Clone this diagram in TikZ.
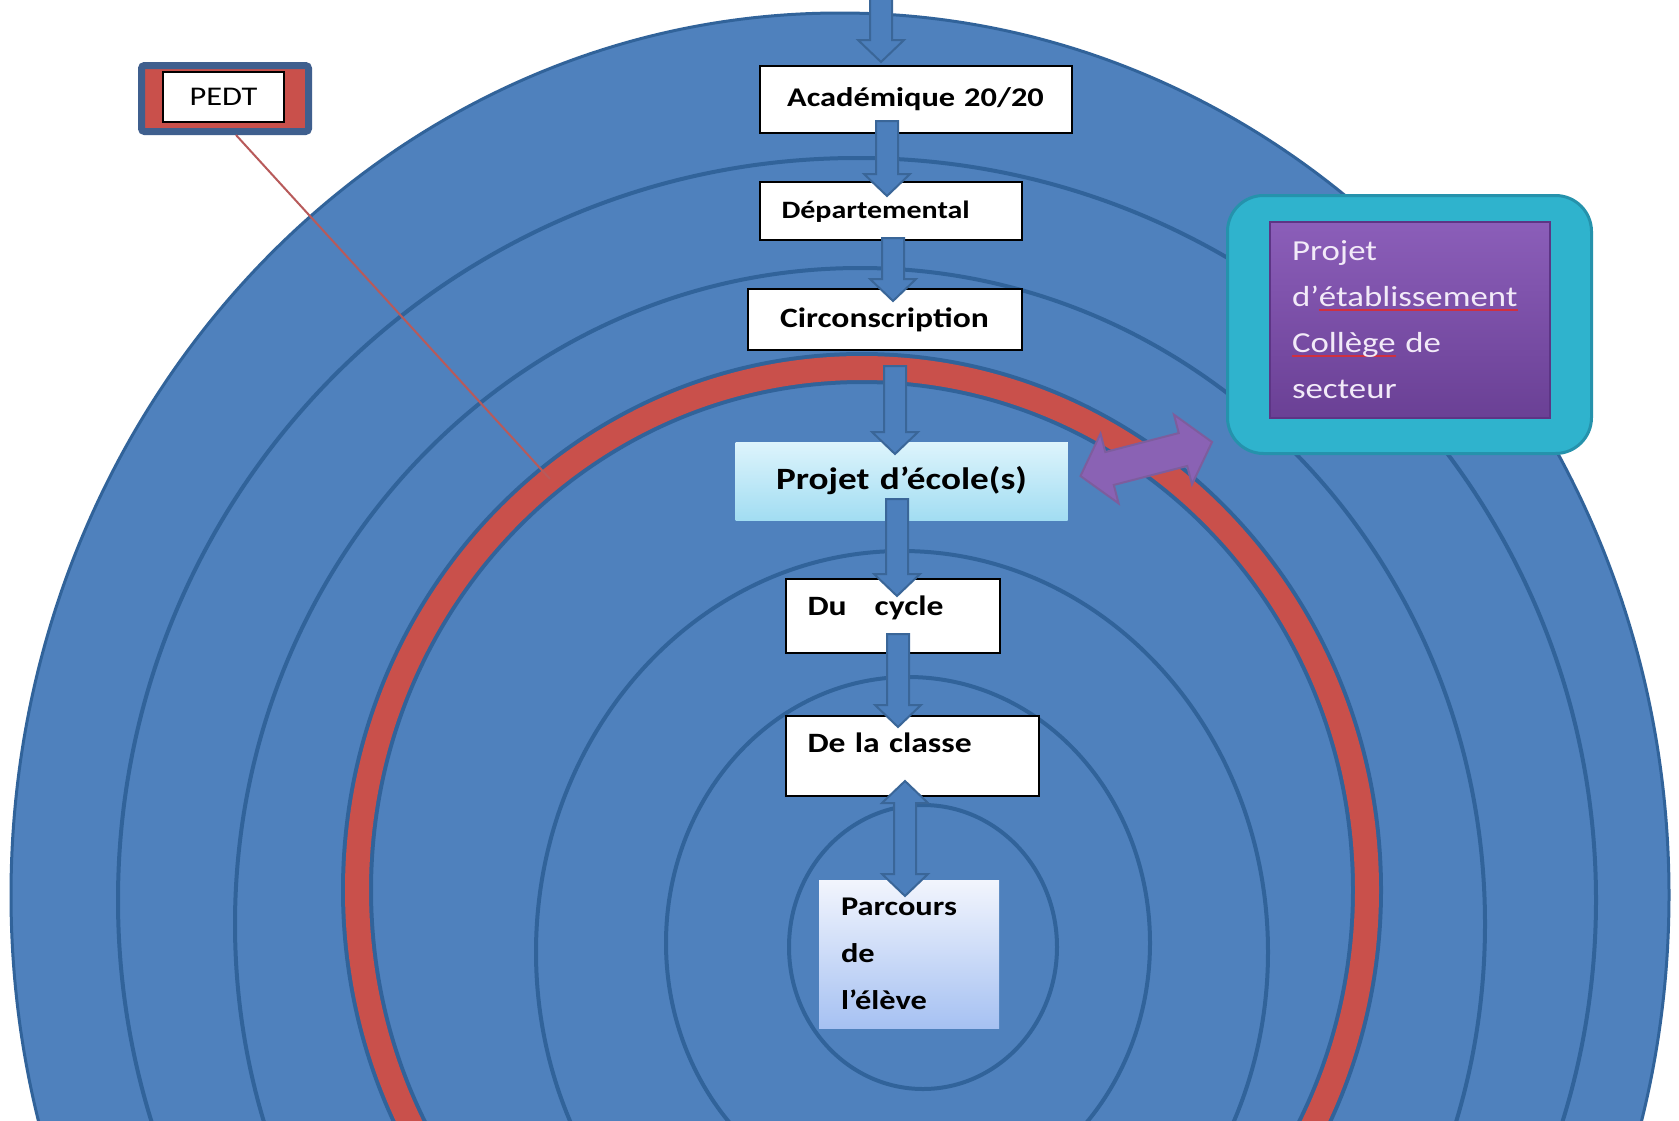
\documentclass[tikz,border=0pt]{standalone}
\usepackage{fontspec}
\setmainfont{Carlito}[FakeStretch=1.2]
\usetikzlibrary{calc,positioning}

\definecolor{ringblue}{HTML}{4F81BD}
\definecolor{ringline}{HTML}{31639A}
\definecolor{ringred}{HTML}{C9504B}
\definecolor{arrowblue}{HTML}{4C7FBC}
\definecolor{arrowline}{HTML}{3A6698}
\definecolor{pedtblue}{HTML}{3F5F8E}
\definecolor{pedtline}{HTML}{B85A5A}
\definecolor{tealbox}{HTML}{2FB3CD}
\definecolor{tealline}{HTML}{2592AC}
\definecolor{purpletop}{HTML}{8B5EB9}
\definecolor{purplebot}{HTML}{6A4095}
\definecolor{purpleedge}{HTML}{5D3585}
\definecolor{purpletext}{HTML}{F2EAF8}
\definecolor{purplearrow}{HTML}{8A62B4}
\definecolor{spellred}{HTML}{D03040}
\definecolor{ecoletop}{HTML}{DDF4FC}
\definecolor{ecolebot}{HTML}{A2DDF2}
\definecolor{eleve top}{HTML}{F2F5FD}
\definecolor{elevebot}{HTML}{A6C1F2}

% red spell-check underline
\newlength{\spellw}
\newcommand{\spellul}[1]{\leavevmode\settowidth{\spellw}{#1}\rlap{\textcolor{spellred}{\rule[-0.3ex]{\spellw}{1.6pt}}}#1}

% fat block arrow: #1 start, #2 target anchor, #3 overlap into target
\newcommand{\fatarrow}[3]{%
  \coordinate (fa) at #1;
  \coordinate (fb) at ($(fa |- #2)+(0,#3)$);
  \coordinate (fh) at ($(fb)!22pt!(fa)$);
  \draw[fatarr] ($(fa)!11pt!90:(fb)$) -- ($(fh)!11pt!-90:(fa)$) -- ($(fh)!23pt!-90:(fa)$) -- (fb)
    -- ($(fh)!23pt!90:(fa)$) -- ($(fh)!11pt!90:(fa)$) -- ($(fa)!11pt!-90:(fb)$) -- cycle;}

% double block arrow: #1,#2 tips, #3 head length, #4 shaft half, #5 head half, #6 style
\newcommand{\dblarrow}[6]{%
  \coordinate (da) at #1;
  \coordinate (db) at #2;
  \coordinate (dha) at ($(da)!#3!(db)$);
  \coordinate (dhb) at ($(db)!#3!(da)$);
  \draw[#6] (da) -- ($(dha)!#5!90:(db)$) -- ($(dha)!#4!90:(db)$) -- ($(dhb)!#4!-90:(da)$)
    -- ($(dhb)!#5!-90:(da)$) -- (db) -- ($(dhb)!#5!90:(da)$) -- ($(dhb)!#4!90:(da)$)
    -- ($(dha)!#4!-90:(db)$) -- ($(dha)!#5!-90:(db)$) -- cycle;}

\begin{document}
\begin{tikzpicture}[x=1pt,y=-1pt]
    \tikzstyle{lvl} = [draw=black, line width=2pt, fill=white, inner xsep=22pt, inner ysep=0pt]
    \tikzstyle{ring} = [draw=ringline, line width=4pt]
    \tikzstyle{fatarr} = [fill=arrowblue, draw=arrowline, line width=2pt, line join=miter]
    \tikzstyle{linkarr} = [fill=purplearrow, draw=purpleedge!80, line width=2pt, line join=miter]

    \clip (0,0) rectangle (1679,1120);
    \fill[white] (0,0) rectangle (1679,1120);

    % Target rings
    \draw[fill=ringblue, draw=ringline, line width=3pt] (840,895) ellipse (829pt and 882pt);
    \draw[ring] (857,900) ellipse (739pt and 742pt);
    \draw[ring] (860,924) ellipse (625pt and 656pt);
    \draw[ringline, line width=32pt] (862,890) ellipse (505pt and 522pt);
    \draw[ringred, line width=24pt] (862,890) ellipse (505pt and 522pt);
    \draw[ring] (902,952) ellipse (366pt and 401pt);
    \draw[ring] (908,943) ellipse (242pt and 266pt);
    \draw[ring] (923,947) ellipse (134pt and 142pt);

    % PEDT
    \coordinate (pedtend) at (550,479);
    \node[fill=ringred, draw=pedtblue, line width=7pt, rounded corners=3pt, minimum width=167pt, minimum height=66pt] (pedtframe) at (225,98.5) {};
    \draw[pedtline, line width=2pt] ($(pedtframe.south)+(11,0)$) -- (pedtend);
    \node[draw=black, line width=1.5pt, fill=white, minimum width=121pt, minimum height=50pt, font=\fontsize{27}{32}\selectfont] (pedt) at (223.5,97) {PEDT};

    % Levels
    \node[lvl, minimum height=67pt, text width=268pt, align=center, font=\bfseries\fontsize{27}{32}\selectfont] (acad) at (915.5,99.5) {Académique 20/20};
    \node[lvl, minimum height=58pt, text width=218pt, text depth=2pt, align=left, font=\bfseries\fontsize{25}{30}\selectfont] (dept) at (890.5,211) {Départemental};
    \node[lvl, minimum height=61pt, text width=230pt, align=center, font=\bfseries\fontsize{28}{33}\selectfont] (circ) at (884.5,319.5) {Circonscription};
    \node[lvl, draw=none, top color=ecoletop, bottom color=ecolebot, minimum height=78pt, text width=288pt, align=center, font=\bfseries\fontsize{31}{36}\selectfont] (proj) at (901.5,481) {Projet d’école(s)};
    \node[lvl, minimum height=74pt, text width=170pt, text depth=20pt, align=left, font=\bfseries\fontsize{28}{33}\selectfont] (cycle) at (892.5,616) {Du\ \ \ cycle};
    \node[lvl, minimum height=80pt, text width=209pt, text depth=26pt, align=left, font=\bfseries\fontsize{28}{33}\selectfont] (classe) at (912,756) {De la classe};
    \node[lvl, draw=none, top color=eleve top, bottom color=elevebot, minimum height=148pt, text width=136pt, align=left, font=\bfseries\fontsize{27}{47}\selectfont] (parc) at (909,954) {Parcours\\de\\l’élève};

    % Projet d'etablissement
    \node[fill=tealbox, draw=tealline, line width=3pt, rounded corners=36pt, minimum width=364pt, minimum height=258pt] (etabframe) at (1409.5,324.5) {};
    \node[top color=purpletop, bottom color=purplebot, draw=purpleedge, line width=2pt, minimum width=280pt, minimum height=196pt, text width=236pt, inner xsep=22pt, align=left, text=purpletext, font=\fontsize{29}{46}\selectfont] (etab) at (1410,320) {Projet\\d’\spellul{établissement}\\\spellul{Collège} de\\secteur};

    % Arrows
    \coordinate (topin) at (881,-10);
    \fatarrow{(topin)}{acad.north}{-3}
    \fatarrow{($(acad.south)+(-28.5,-13)$)}{dept.north}{15}
    \fatarrow{($(dept.south)+(2.5,-3)$)}{circ.north}{13}
    \fatarrow{($(circ.south)+(10.5,15)$)}{proj.north}{13}
    \fatarrow{($(proj.south)+(-4.5,-22)$)}{cycle.north}{18}
    \fatarrow{($(cycle.south)+(5.5,-20)$)}{classe.north}{12}
    \dblarrow{($(classe.south)+(-7,-16)$)}{($(parc.north)+(-4,17)$)}{22pt}{11pt}{23pt}{fatarr}
    \dblarrow{($(proj.east)+(12,-5)$)}{($(etabframe.south west)+(-14,-13)$)}{30pt}{17pt}{36pt}{linkarr}
\end{tikzpicture}
\end{document}
